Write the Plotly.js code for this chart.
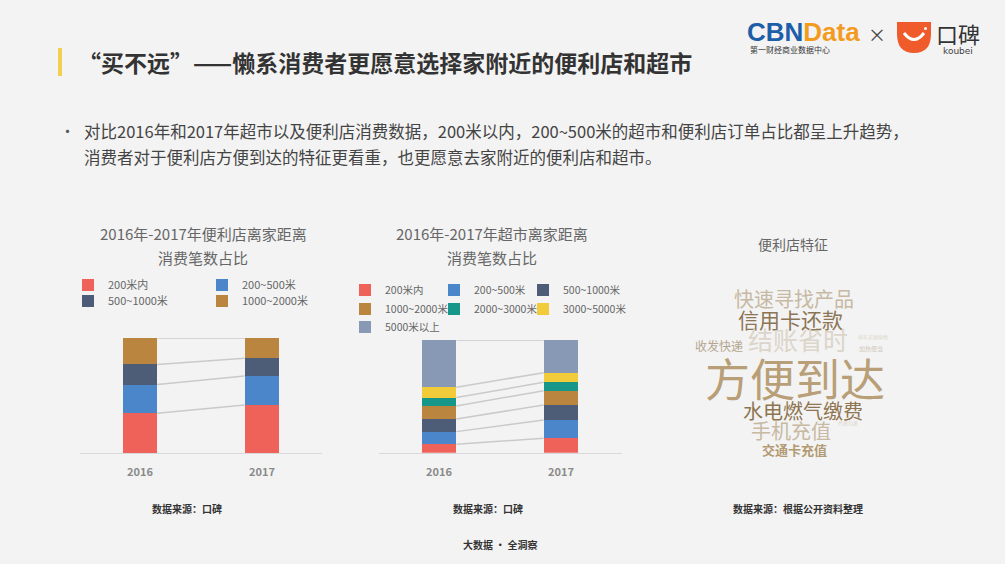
<!DOCTYPE html>
<html>
<head>
<meta charset="utf-8">
<script src="https://cdn.plot.ly/plotly-3.0.1.min.js"></script>
<style>
  html, body { margin: 0; padding: 0; background: #f3f3f3; }
  #chart { width: 1005px; height: 564px; }
</style>
</head>
<body>
<div id="chart"></div>
<script>
// ---- data (shares in %) ----
const years = ['2016', '2017'];

const storeBands = ['200米内', '200~500米', '500~1000米', '1000~2000米'];
const store2016 = [34.5, 25.0, 17.5, 23.0];
const store2017 = [41.7, 25.2, 15.4, 17.7];

const marketBands = ['200米内', '200~500米', '500~1000米', '1000~2000米', '2000~3000米', '3000~5000米', '5000米以上'];
const market2016 = [7.5, 11.2, 11.3, 11.5, 7.4, 9.2, 41.9];
const market2017 = [12.8, 16.2, 13.3, 12.7, 7.5, 8.5, 29.0];

const bandColors = ['#ef6259', '#4a86c9', '#4e5d77', '#b9853f', '#16978a', '#f1cb3a', '#8799b5'];

const cloudWords = ['快速寻找产品', '信用卡还款', '收发快递', '结账省时', '方便到达', '水电燃气缴费', '手机充值', '交通卡充值'];

// ---- helpers ----
const W = 1005, H = 564;
const px = x => x / W;
const py = y => 1 - y / H;
const BAR_W = 0.285;

function cumsum(arr) {
    let s = 0;
    return arr.map(v => (s += v));
}

// legend slots: [text x, text y] in page pixels, one legend per entry
const storeLegendPos = [[108, 285], [242, 285], [108, 301], [242, 301]];
const marketLegendPos = [[385, 290], [474, 290], [563, 290], [385, 309], [474, 309], [563, 309], [385, 327]];

let legendCount = 0;
const legends = {};

function makeLegend(pos, size) {
    legendCount += 1;
    const key = legendCount === 1 ? 'legend' : 'legend' + legendCount;
    legends[key] = {
        orientation: 'h', x: px(pos[0] - 40), y: py(pos[1]), xanchor: 'left', yanchor: 'middle',
        bgcolor: 'rgba(0,0,0,0)', font: { size: size, color: '#666' },
        itemwidth: 30, itemclick: false, traceorder: 'normal'
    };
    return key;
}

function stackTraces(bands, a, b, xa, ya, legendPos, legendSize) {
    const traces = [];
    bands.forEach((name, i) => {
        traces.push({
            type: 'bar', name: name,
            x: [0, 1], y: [a[i], b[i]],
            width: BAR_W,
            xaxis: xa, yaxis: ya,
            marker: { color: bandColors[i], line: { width: 0 } },
            legend: makeLegend(legendPos[i], legendSize),
            hoverinfo: 'name+y'
        });
    });
    // connector lines between cumulative boundaries
    const ca = cumsum(a), cb = cumsum(b);
    ca.forEach((v, i) => {
        traces.push({
            type: 'scatter', mode: 'lines',
            x: [BAR_W / 2, 1 - BAR_W / 2], y: [v, cb[i]],
            xaxis: xa, yaxis: ya,
            line: { color: '#cacaca', width: 1.5 },
            showlegend: false, hoverinfo: 'skip'
        });
    });
    return traces;
}

const data = [
    ...stackTraces(storeBands, store2016, store2017, 'x', 'y', storeLegendPos, 11),
    ...stackTraces(marketBands, market2016, market2017, 'x2', 'y2', marketLegendPos, 10.5)
];

const xBase = {
    tickvals: [0, 1], ticktext: years,
    showline: true, linecolor: '#d9d9d9', linewidth: 1,
    showgrid: false, zeroline: false, ticks: '', ticklabelstandoff: 9,
    tickfont: { size: 11, color: '#8a8a8a', weight: 'bold' }, fixedrange: true
};
const yBase = { range: [0, 100], visible: false, fixedrange: true };

const baseFont = 'Noto Sans CJK SC, Noto Sans, sans-serif';

function note(text, x, y, size, color, extra = {}) {
    return Object.assign({
        text: text, x: px(x), y: py(y), xref: 'paper', yref: 'paper',
        showarrow: false, xanchor: 'center', yanchor: 'middle',
        font: { size: size, color: color, family: baseFont }
    }, extra);
}

// word cloud: position, size, colour per word (same order as cloudWords)
const cloudPos = [[794, 298], [790, 319], [719, 345], [798, 339], [795, 377], [803, 410], [791, 430], [794, 449]];
const cloudSize = [20, 21, 12, 25, 45, 20, 20, 13];
const cloudColor = ['#c6b9a3', '#8c7555', '#b3a690', '#dcd5ca', '#b89f78', '#8e7550', '#c7b9a2', '#b29a73'];

const annotations = [
    note('<b>“买不远”——懒系消费者更愿意选择家附近的便利店和超市</b>', 76, 62, 23, '#333', { xanchor: 'left' }),
    note('•', 58, 130, 15, '#555', { xanchor: 'left' }),
    note('对比2016年和2017年超市以及便利店消费数据，200米以内，200~500米的超市和便利店订单占比都呈上升趋势，', 82, 131, 16.5, '#444', { xanchor: 'left' }),
    note('消费者对于便利店方便到达的特征更看重，也更愿意去家附近的便利店和超市。', 82, 157, 16.5, '#444', { xanchor: 'left' }),

    note('2016年-2017年便利店离家距离', 203, 233, 15, '#666'),
    note('消费笔数占比', 203, 258, 15, '#666'),
    note('2016年-2017年超市离家距离', 492, 233, 15, '#666'),
    note('消费笔数占比', 492, 258, 15, '#666'),
    note('便利店特征', 793, 244, 14, '#666'),

    note('<b>数据来源：口碑</b>', 187, 508, 10, '#333'),
    note('<b>数据来源：口碑</b>', 488, 508, 10, '#333'),
    note('<b>数据来源：根据公开资料整理</b>', 798, 508, 10, '#333'),
    note('<b>大数据 · 全洞察</b>', 500, 544, 10, '#333'),

    // logos
    note('<b><span style="color:#1d5ea9">CBN</span><span style="color:#f39b1f">Data</span></b>', 745, 32, 26, '#1d5ea9',
        { xanchor: 'left', font: { size: 26, family: 'Liberation Sans, Arial, sans-serif', color: '#1d5ea9' } }),
    note('第一财经商业数据中心', 748, 50, 8, '#333', { xanchor: 'left' }),
    note('×', 877, 34, 18, '#444'),
    note('口碑', 958, 33, 22, '#333'),
    note('koubei', 958, 51, 9, '#444', { font: { size: 9, family: 'DejaVu Sans, sans-serif', color: '#444' } }),

    // tiny words in the cloud
    note('停车方便购物', 873, 337, 5, '#ddd6cc'),
    note('加热便当', 871, 348, 6, '#d2c9bb'),
    note('代收包裹', 848, 423, 5, '#ddd6cc')
];

cloudWords.forEach((w, i) => {
    annotations.push(note(w, cloudPos[i][0], cloudPos[i][1], cloudSize[i], cloudColor[i],
        i === 7 ? { text: '<b>' + w + '</b>' } : {}));
});

const shapes = [
    // yellow title marker
    { type: 'rect', xref: 'paper', yref: 'paper', x0: px(58), x1: px(62), y0: py(76), y1: py(48),
      fillcolor: '#f1d04f', line: { width: 0 } },
    // koubei bowl
    { type: 'path', xref: 'paper', yref: 'paper',
      path: `M ${px(897)} ${py(22)} L ${px(931)} ${py(22)} L ${px(931)} ${py(34)} Q ${px(931)} ${py(53)} ${px(914)} ${py(53)} Q ${px(897)} ${py(53)} ${px(897)} ${py(34)} Z`,
      fillcolor: '#ef5b2a', line: { width: 0 } },
    { type: 'path', xref: 'paper', yref: 'paper',
      path: `M ${px(904)} ${py(33)} Q ${px(914)} ${py(46)} ${px(924)} ${py(33)}`,
      line: { color: '#ffffff', width: 3 } },
    { type: 'circle', xref: 'paper', yref: 'paper', x0: px(924), x1: px(927), y0: py(30), y1: py(27),
      fillcolor: '#ffffff', line: { width: 0 } }
];

const layout = {
    width: W, height: H,
    paper_bgcolor: '#f3f3f3', plot_bgcolor: 'rgba(0,0,0,0)',
    margin: { l: 0, r: 0, t: 0, b: 0 },
    font: { family: baseFont, color: '#666' },
    barmode: 'stack', bargap: 0,
    xaxis: { ...xBase, domain: [px(80), px(322)], range: [-0.492, 1.492] },
    yaxis: { ...yBase, domain: [py(453), py(338)] },
    xaxis2: { ...xBase, domain: [px(379), px(622)], range: [-0.492, 1.5], anchor: 'y2' },
    yaxis2: { ...yBase, domain: [py(452.7), py(340)], anchor: 'x2' },
    ...legends,
    annotations: annotations,
    shapes: shapes,
    showlegend: true
};

Plotly.newPlot('chart', data, layout, { displayModeBar: false, staticPlot: true });
</script>
</body>
</html>
